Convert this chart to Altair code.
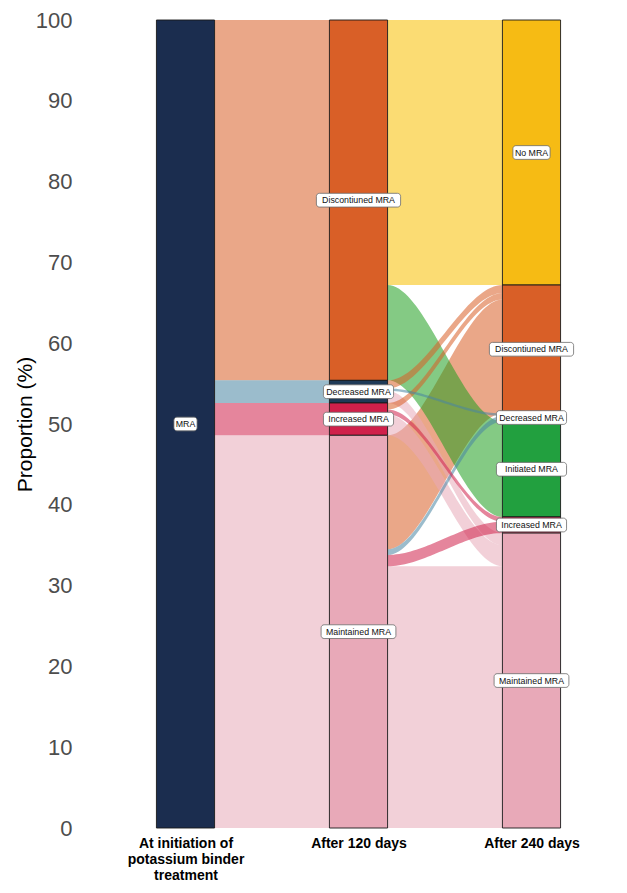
import altair as alt
import pandas as pd

# ---------------- data ----------------
STAGE_POS = [1, 2, 3]
STAGE_LABELS = [["At initiation of", "potassium binder", "treatment"],
                ["After 120 days"],
                ["After 240 days"]]

S1_CATS = ["MRA"]
S1_VALS = [100.0]

# at 120 days (top to bottom)
S2_CATS = ["Discontiuned MRA", "Decreased MRA", "Increased MRA", "Maintained MRA"]
S2_VALS = [44.6, 2.8, 4.0, 48.6]

# at 240 days (top to bottom)
S3_CATS = ["No MRA", "Discontiuned MRA", "Decreased MRA", "Initiated MRA",
           "Increased MRA", "Maintained MRA"]

# transitions 120 days -> 240 days
F_FROM = ["Discontiuned MRA", "Discontiuned MRA",
          "Decreased MRA", "Decreased MRA", "Decreased MRA",
          "Increased MRA", "Increased MRA", "Increased MRA",
          "Maintained MRA", "Maintained MRA", "Maintained MRA", "Maintained MRA"]
F_TO = ["No MRA", "Initiated MRA",
        "Discontiuned MRA", "Decreased MRA", "Maintained MRA",
        "Discontiuned MRA", "Increased MRA", "Maintained MRA",
        "Discontiuned MRA", "Decreased MRA", "Increased MRA", "Maintained MRA"]
F_VAL = [32.8, 11.8,
         1.0, 0.3, 1.5,
         0.8, 0.6, 2.6,
         14.1, 0.7, 1.4, 32.4]

Y_TICKS = [0, 10, 20, 30, 40, 50, 60, 70, 80, 90, 100]

# ---------------- styles ----------------
NODE_COLOR = {
    "MRA": "#1b2d4f",
    "Discontiuned MRA": "#d95f27",
    "Decreased MRA": "#1f3a57",
    "Increased MRA": "#d0204a",
    "Maintained MRA": "#e8a9b8",
    "No MRA": "#f6bb14",
    "Initiated MRA": "#22a03f",
}
FLOW_COLOR = dict(NODE_COLOR)
FLOW_COLOR["Decreased MRA"] = "#4985a2"
FLOW_COLOR["Initiated MRA"] = "#1f9e1f"
FLOW_COLOR["No MRA"] = "#f8c000"
FLOW_OPACITY = 0.55
HALF_W = 0.168
PX_PER_UNIT = 173.0
N_SEG = 40  # curve resolution of each ribbon

# ---------------- build tables ----------------
S3_VALS = [sum(v for t, v in zip(F_TO, F_VAL) if t == c) for c in S3_CATS]
stages = [(S1_CATS, S1_VALS), (S2_CATS, S2_VALS), (S3_CATS, S3_VALS)]

node_rows = []
node_span = []
for pos, (cats, vals) in zip(STAGE_POS, stages):
    top = 100.0
    span = {}
    for c, v in zip(cats, vals):
        span[c] = (top - v, top)
        node_rows.append(dict(pos=pos, cat=c, lo=top - v, hi=top,
                              mid=top - v / 2, fill=NODE_COLOR[c]))
        top -= v
    node_span.append(span)
nodes = pd.DataFrame(node_rows)

trans = [
    (0, ["MRA"] * len(S2_CATS), list(S2_CATS), list(S2_VALS)),
    (1, F_FROM, F_TO, F_VAL),
]
flow_list = []
for k, frm, to, val in trans:
    src_cats = stages[k][0]
    dst_cats = stages[k + 1][0]
    idx = list(range(len(frm)))
    src_pos = {}
    cursor = {c: node_span[k][c][1] for c in src_cats}
    for i in sorted(idx, key=lambda i: (src_cats.index(frm[i]), dst_cats.index(to[i]))):
        t = cursor[frm[i]]
        src_pos[i] = (t, t - val[i])
        cursor[frm[i]] = t - val[i]
    dst_pos = {}
    cursor = {c: node_span[k + 1][c][1] for c in dst_cats}
    for i in sorted(idx, key=lambda i: (dst_cats.index(to[i]), src_cats.index(frm[i]))):
        t = cursor[to[i]]
        dst_pos[i] = (t, t - val[i])
        cursor[to[i]] = t - val[i]
    for i in idx:
        flow_list.append(dict(
            val=val[i],
            x0=STAGE_POS[k] + HALF_W, x1=STAGE_POS[k + 1] - HALF_W,
            y0t=src_pos[i][0], y0b=src_pos[i][1],
            y1t=dst_pos[i][0], y1b=dst_pos[i][1],
            fcol=FLOW_COLOR[to[i]]))

flow_list.sort(key=lambda f: -f["val"])
pts = []
for n, f in enumerate(flow_list):
    for j in range(N_SEG + 1):
        t = j / N_SEG
        s = t * t * (3 - 2 * t)
        pts.append(dict(
            fid=f"f{n:02d}", fcol=f["fcol"],
            x=f["x0"] + t * (f["x1"] - f["x0"]),
            yt=f["y0t"] + s * (f["y1t"] - f["y0t"]),
            yb=f["y0b"] + s * (f["y1b"] - f["y0b"])))
flow_pts = pd.DataFrame(pts)

x_scale = alt.Scale(domain=[0.5, 3.5], nice=False, zero=False)
y_scale = alt.Scale(domain=[0, 100], nice=False)

label_expr = " : ".join(
    f"datum.value == {p} ? [{', '.join(repr(s) for s in lab)}]"
    for p, lab in zip(STAGE_POS[:-1], STAGE_LABELS[:-1])
) + " : [" + ", ".join(repr(s) for s in STAGE_LABELS[-1]) + "]"

x_axis = alt.Axis(values=STAGE_POS, labelExpr=label_expr, title=None,
                  labelFont="Liberation Sans", labelFontSize=14,
                  labelFontWeight="bold", labelColor="#000000",
                  labelLineHeight=16, labelPadding=8, domain=False, ticks=False,
                  grid=False)
y_axis = alt.Axis(values=Y_TICKS, title="Proportion (%)",
                  labelFont="Liberation Sans", labelFontSize=22,
                  labelColor="#4d4d4d", labelPadding=27,
                  titleFont="Liberation Sans", titleFontSize=21,
                  titleFontWeight="normal", titleColor="#000000",
                  titleX=-74, titleBaseline="middle",
                  domain=False, ticks=False, grid=False)

flow_layer = alt.Chart(flow_pts).mark_area(opacity=FLOW_OPACITY).encode(
    x=alt.X("x:Q", scale=x_scale, axis=x_axis),
    y=alt.Y("yt:Q", scale=y_scale, axis=y_axis, stack=None),
    y2="yb:Q",
    color=alt.Color("fcol:N", scale=None),
    detail="fid:N",
)

node_layer = alt.Chart(nodes).transform_calculate(
    xa=f"datum.pos - {HALF_W}", xb=f"datum.pos + {HALF_W}"
).mark_rect(stroke="#1a1a1a", strokeWidth=0.9).encode(
    x=alt.X("xa:Q", scale=x_scale, axis=x_axis),
    x2="xb:Q",
    y=alt.Y("lo:Q", scale=y_scale, axis=y_axis),
    y2="hi:Q",
    fill=alt.Fill("fill:N", scale=None),
)

box_layer = alt.Chart(nodes).transform_calculate(
    w=f"(length(datum.cat) * 4.7 + 9) / {PX_PER_UNIT}",
).transform_calculate(
    xa="datum.pos - datum.w / 2", xb="datum.pos + datum.w / 2",
    ya="datum.mid - 0.85", yb="datum.mid + 0.85",
).mark_rect(fill="white", stroke="#6b6b6b", strokeWidth=0.8,
            cornerRadius=3).encode(
    x=alt.X("xa:Q", scale=x_scale, axis=x_axis),
    x2="xb:Q",
    y=alt.Y("ya:Q", scale=y_scale, axis=y_axis),
    y2="yb:Q",
)

text_layer = alt.Chart(nodes).mark_text(
    font="Liberation Sans", fontSize=8.8, color="#111111", baseline="middle",
    align="center"
).encode(
    x=alt.X("pos:Q", scale=x_scale, axis=x_axis),
    y=alt.Y("mid:Q", scale=y_scale, axis=y_axis),
    text="cat:N",
)

chart = alt.layer(flow_layer, node_layer, box_layer, text_layer).properties(
    width=519, height=808,
    autosize=alt.AutoSizeParams(type="none"),
    padding={"left": 91, "top": 12, "right": 0, "bottom": 57},
).configure_view(stroke=None).configure_axis(grid=False)

chart.save("out.html", embed_options={"renderer": "svg", "actions": False})
